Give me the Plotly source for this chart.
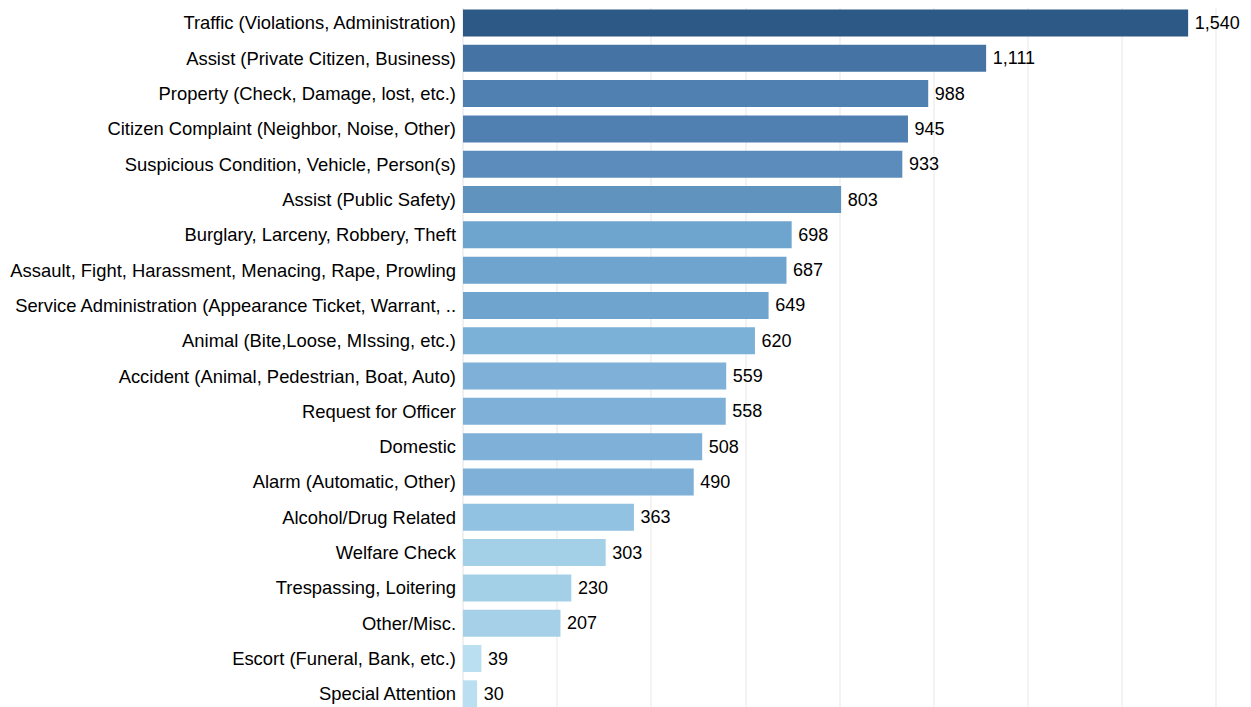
import plotly.graph_objects as go

categories = [
    "Traffic (Violations, Administration)",
    "Assist (Private Citizen, Business)",
    "Property (Check, Damage, lost, etc.)",
    "Citizen Complaint (Neighbor, Noise, Other)",
    "Suspicious Condition, Vehicle, Person(s)",
    "Assist (Public Safety)",
    "Burglary, Larceny, Robbery, Theft",
    "Assault, Fight, Harassment, Menacing, Rape, Prowling",
    "Service Administration (Appearance Ticket, Warrant, ..",
    "Animal (Bite,Loose, MIssing, etc.)",
    "Accident (Animal, Pedestrian, Boat, Auto)",
    "Request for Officer",
    "Domestic",
    "Alarm (Automatic, Other)",
    "Alcohol/Drug Related",
    "Welfare Check",
    "Trespassing, Loitering",
    "Other/Misc.",
    "Escort (Funeral, Bank, etc.)",
    "Special Attention",
]
counts = [1540, 1111, 988, 945, 933, 803, 698, 687, 649, 620,
          559, 558, 508, 490, 363, 303, 230, 207, 39, 30]

bar_colors = [
    "#2d5986", "#4574a4", "#4f80b1", "#5080b1", "#5b8cbb",
    "#6193bf", "#6ea5cf", "#6ea4ce", "#6fa4ce", "#7bb0d7",
    "#7fb1d8", "#7fb1d8", "#7fb1d8", "#7fb0d7", "#92c2e1",
    "#a3cfe7", "#a3cfe7", "#a5d0e8", "#b9dff1", "#b9dff1",
]

FONT = "Liberation Sans, Arial, sans-serif"

fig = go.Figure(
    go.Bar(
        x=counts,
        y=categories,
        orientation="h",
        marker=dict(color=bar_colors, line=dict(width=0)),
        text=["\u2009" + f"{v:,}" for v in counts],
        textposition="outside",
        textfont=dict(family=FONT, size=18, color="#000000"),
        cliponaxis=False,
        hoverinfo="x+y",
    )
)

fig.update_layout(
    width=1251,
    height=707,
    margin=dict(l=455, r=4, t=0, b=0),
    paper_bgcolor="white",
    plot_bgcolor="white",
    bargap=0.235,
    showlegend=False,
    font=dict(family=FONT, size=18, color="#000000"),
)
fig.update_xaxes(
    range=[0, 1682],
    dtick=200,
    showgrid=True,
    gridcolor="#f3f3f3",
    gridwidth=1.5,
    showticklabels=False,
    zeroline=True,
    zerolinecolor="#f0f0f0",
    zerolinewidth=1.5,
)
fig.update_yaxes(
    categoryorder="array",
    categoryarray=categories[::-1],
    range=[-0.60, 19.425],
    showgrid=False,
    automargin=False,
    ticklabelstandoff=6,
    tickfont=dict(family=FONT, size=18.4, color="#000000"),
)

fig.write_html("out.html")
